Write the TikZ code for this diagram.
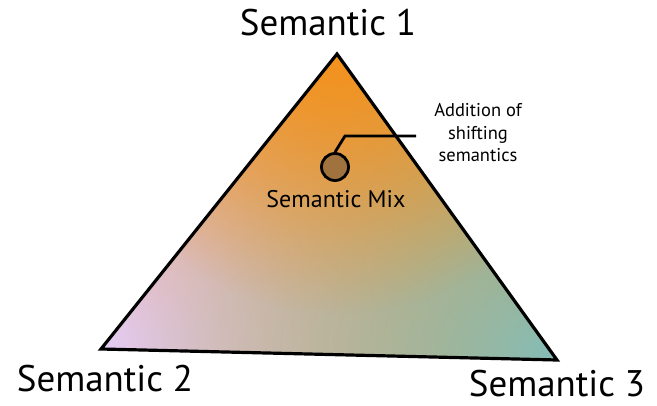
\documentclass[tikz,border=0pt]{standalone}
\usepackage{fontspec}
\setmainfont{PT Sans}
\usetikzlibrary{positioning, fadings}
\definecolor{semorange}{RGB}{243,146,30}
\definecolor{semlilac}{RGB}{226,204,246}
\definecolor{semteal}{RGB}{132,190,186}
\definecolor{mixbrown}{RGB}{160,114,62}
\tikzfading[name=cornerfade, inner color=transparent!0, outer color=transparent!100]
\tikzset{
  edge/.style={line width=3.2pt, line join=miter},
  corner/.style={font=\fontsize{37}{40}\selectfont, anchor=base, inner sep=0pt},
  mixdot/.style={circle, draw, line width=2.8pt, fill=mixbrown, minimum size=27pt, inner sep=0pt},
  leader/.style={line width=2.8pt},
}

\begin{document}
\begin{tikzpicture}[x=1pt, y=-1pt]
        % Cadre
        \useasboundingbox (0,0) rectangle (657,406);

        % --- Sommets ---
        \coordinate (s1) at (337,54);
        \coordinate (s2) at (101,349);
        \coordinate (s3) at (557,360);

        % --- Remplissage : orange, puis lilas et sarcelle depuis les coins ---
        \begin{scope}
            \clip (s1) -- (s2) -- (s3) -- cycle;
            \fill[semorange] (s1) -- (s2) -- (s3) -- cycle;
            \fill[semlilac, path fading=cornerfade] (s2) circle (430);
            \fill[semteal, path fading=cornerfade] (s3) circle (430);
            \fill[semorange, path fading=cornerfade] (s1) circle (260);
        \end{scope}
        \draw[edge] (s1) -- (s2) -- (s3) -- cycle;

        % --- Etiquettes des sommets ---
        \node[corner] (lab1) at (328,36) {Semantic 1};
        \node[corner] (lab2) at (105,392) {Semantic 2};
        \node[corner] (lab3) at (557,397) {Semantic 3};

        % --- Melange ---
        \node[mixdot] (mix) at (335,167) {};
        \node[font=\fontsize{24}{26}\selectfont, anchor=base] (mixlab) at (336,208) {Semantic Mix};

        % --- Renvoi ---
        \coordinate (bend) at (345,136);
        \coordinate (tip) at (416,136);
        \draw[leader] (mix.north) -- (bend) -- (tip);
        \node[font=\fontsize{18.5}{22.5}\selectfont, align=center, anchor=north] (note) at (478,100)
            {Addition of\\shifting\\semantics};
    \end{tikzpicture}
\end{document}
